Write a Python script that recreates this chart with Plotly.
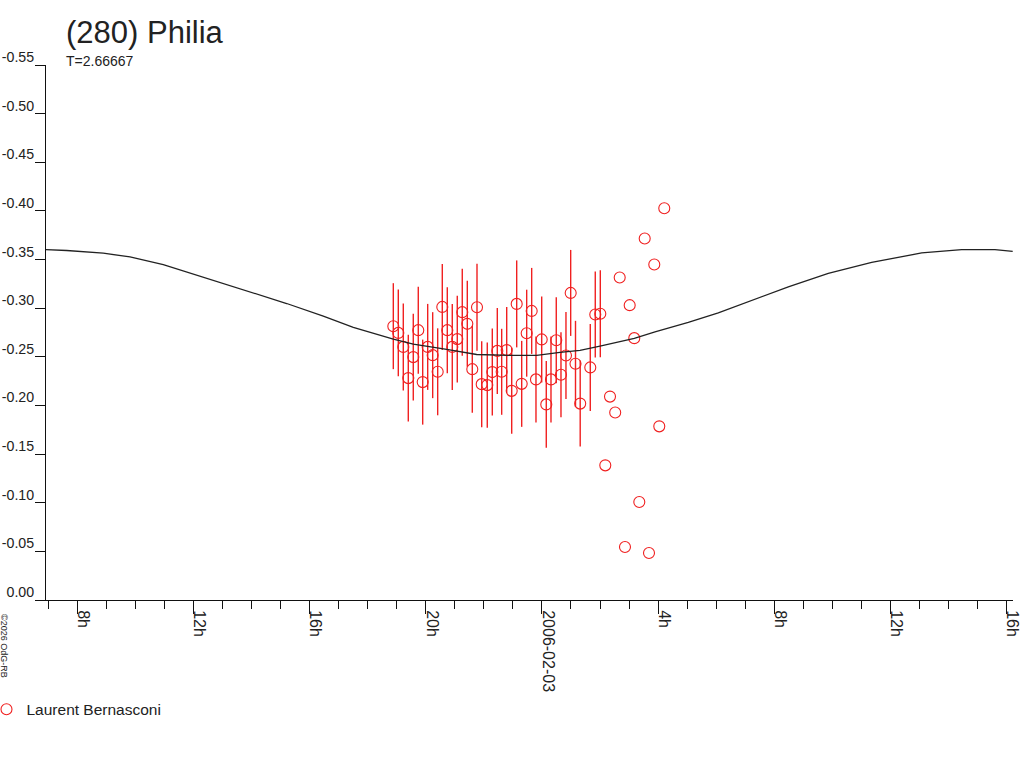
import plotly.graph_objects as go

# Observation times: hours since 2006-02-02 00:00 UT
obs_hours = [18.882, 19.054, 19.226, 19.398, 19.570, 19.742, 19.894, 20.066, 20.238, 20.410,
             20.569, 20.741, 20.913, 21.085, 21.257, 21.430, 21.602, 21.764, 21.926, 22.118,
             22.291, 22.463, 22.614, 22.787, 22.959, 23.131, 23.303, 23.475, 23.647, 23.795,
             23.992, 24.150, 24.312, 24.494, 24.656, 24.828, 24.990, 25.156, 25.318, 25.665,
             25.837, 26.010,
             26.182, 26.344, 26.523, 26.678, 26.860, 27.022, 27.180, 27.353, 27.539, 27.687,
             27.869, 28.041, 28.213]
obs_mag = [-0.2815, -0.2746, -0.2602, -0.2281, -0.2497, -0.2774, -0.2240, -0.2602, -0.2517, -0.2346,
           -0.3013, -0.2774, -0.2602, -0.2682, -0.2959, -0.2839, -0.2373, -0.3010, -0.2219, -0.2209,
           -0.2343, -0.2561, -0.2346, -0.2569, -0.2150, -0.3044, -0.2222, -0.2743, -0.2972, -0.2268,
           -0.2679, -0.2011, -0.2268, -0.2671, -0.2315, -0.2514, -0.3157, -0.2428, -0.2019, -0.2391,
           -0.2935, -0.2942,
           -0.1384, -0.2091, -0.1928, -0.3316, -0.0545, -0.3031, -0.2692, -0.1007, -0.3716, -0.0483,
           -0.3449, -0.1785, -0.4028]
obs_err = [0.0442, 0.0447, 0.0447, 0.0447, 0.0447, 0.0447, 0.0437, 0.0442, 0.0442, 0.0447,
           0.0442, 0.0442, 0.0442, 0.0447, 0.0447, 0.0442, 0.0447, 0.0447, 0.0442, 0.0437,
           0.0447, 0.0442, 0.0442, 0.0442, 0.0442, 0.0447, 0.0442, 0.0447, 0.0442, 0.0442,
           0.0442, 0.0447, 0.0442, 0.0442, 0.0437, 0.0447, 0.0442, 0.0442, 0.0442, 0.0447,
           0.0442, 0.0447,
           0, 0, 0, 0, 0, 0, 0, 0, 0, 0, 0, 0, 0]
observer = "Laurent Bernasconi"

# Reference light curve
curve_hours = [6.922, 7.635, 8.895, 9.815, 10.961, 11.881, 12.914, 14.178, 15.211, 16.471,
               17.504, 18.882, 19.570, 20.720, 21.753, 23.014, 23.820, 24.622, 25.311, 26.000,
               27.181, 27.894, 29.040, 30.073, 31.223, 32.484, 33.861, 35.355, 37.077, 38.455,
               39.601, 40.211]
curve_mag = [-0.3603, -0.3593, -0.3565, -0.3527, -0.3449, -0.3363, -0.3270, -0.3151, -0.3048, -0.2918,
             -0.2802, -0.2682, -0.2630, -0.2576, -0.2524, -0.2514, -0.2514, -0.2545, -0.2566, -0.2610,
             -0.2689, -0.2757, -0.2853, -0.2952, -0.3083, -0.3219, -0.3357, -0.3470, -0.3568, -0.3603,
             -0.3603, -0.3583]

x_tick_vals = [8, 12, 16, 20, 24, 28, 32, 36, 40]
x_tick_text = ["8h", "12h", "16h", "20h", "2006-02-03", "4h", "8h", "12h", "16h"]
x_minor_vals = list(range(7, 41))
y_tick_vals = [-0.55, -0.50, -0.45, -0.40, -0.35, -0.30, -0.25, -0.20, -0.15, -0.10, -0.05, 0.0]
y_tick_text = ["-0.55", "-0.50", "-0.45", "-0.40", "-0.35", "-0.30", "-0.25", "-0.20",
               "-0.15", "-0.10", "-0.05", "0.00"]

title_text = "(280) Philia"
subtitle_text = "T=2.66667"
copyright_text = "©2026 OdG-RB"

RED = "#f02020"
FONT = "Liberation Sans, Arial, sans-serif"

fig = go.Figure()
fig.add_trace(go.Scatter(
    x=obs_hours, y=obs_mag, mode="markers", name=observer,
    marker=dict(symbol="circle-open", size=11, color=RED, line=dict(width=1.1, color=RED)),
    error_y=dict(type="data", array=obs_err, symmetric=True, color=RED, thickness=1.4, width=0),
))
fig.add_trace(go.Scatter(
    x=curve_hours, y=curve_mag, mode="lines", showlegend=False, hoverinfo="skip",
    line=dict(color="#222222", width=1.3),
))

fig.update_layout(
    width=1024, height=768,
    margin=dict(l=35, r=11, t=65, b=168, pad=0, autoexpand=False),
    paper_bgcolor="white", plot_bgcolor="white",
    font=dict(family=FONT, size=15, color="#222222"),
    showlegend=True,
    legend=dict(x=-0.0496, y=-0.205, xanchor="left", yanchor="middle",
                font=dict(size=15.5, color="#222222"), bgcolor="rgba(0,0,0,0)"),
    xaxis=dict(
        range=[6.5434, 40.2218], showgrid=False, zeroline=False, automargin=False,
        showline=True, linecolor="#111111", linewidth=1,
        tickmode="array", tickvals=x_tick_vals, ticktext=x_tick_text,
        ticks="outside", ticklen=13, tickwidth=1, tickcolor="#111111",
        tickangle=90, ticklabelshift=6, ticklabelstandoff=-7,
        tickfont=dict(size=16, color="#222222"),
        minor=dict(tickmode="array", tickvals=x_minor_vals, ticks="outside", ticklen=8,
                   tickwidth=1, tickcolor="#111111", showgrid=False),
    ),
    yaxis=dict(
        range=[0, -0.55], showgrid=False, zeroline=False, automargin=False,
        anchor="free", position=0.01022,
        showline=True, linecolor="#111111", linewidth=1,
        tickmode="array", tickvals=y_tick_vals, ticktext=y_tick_text,
        ticks="outside", ticklen=10, tickwidth=1, tickcolor="#111111",
        ticklabelshift=8, ticklabelstandoff=-2,
        tickfont=dict(size=14.2, color="#222222"),
    ),
    annotations=[
        dict(text=title_text, xref="paper", yref="paper", x=0.0297, y=1.06,
             xanchor="left", yanchor="middle", showarrow=False,
             font=dict(size=31, color="#222222")),
        dict(text=subtitle_text, xref="paper", yref="paper", x=0.0297, y=1.007,
             xanchor="left", yanchor="middle", showarrow=False,
             font=dict(size=14, color="#222222")),
        dict(text=copyright_text, xref="paper", yref="paper", x=-0.0318, y=-0.086,
             xanchor="center", yanchor="middle", showarrow=False, textangle=90,
             font=dict(size=9, color="#222222")),
    ],
)

fig.write_html(
    "out.html",
    config={"displayModeBar": False},
    post_script="document.body.style.margin='0';document.body.style.overflow='hidden';",
)
